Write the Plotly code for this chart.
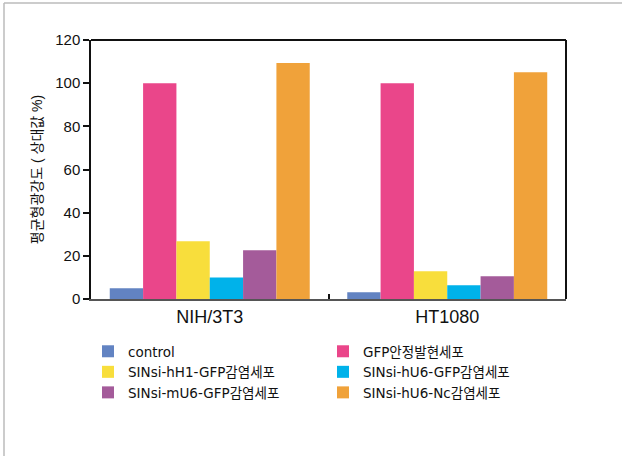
import plotly.graph_objects as go

# Cell lines on the x axis
cell_lines = ["NIH/3T3", "HT1080"]

# Series names and their mean fluorescence (relative %)
series_names = [
    "control",
    "GFP안정발현세포",
    "SINsi-hH1-GFP감염세포",
    "SINsi-hU6-GFP감염세포",
    "SINsi-mU6-GFP감염세포",
    "SINsi-hU6-Nc감염세포",
]
control = [5.0, 3.1]
gfp_stable = [100.0, 100.0]
hh1_gfp = [26.8, 12.8]
hu6_gfp = [10.0, 6.4]
mu6_gfp = [22.6, 10.5]
hu6_nc = [109.3, 105.1]

# Bars are drawn left-to-right in this order inside each group
bar_order = [control, gfp_stable, hh1_gfp, hu6_gfp, mu6_gfp, hu6_nc]
bar_colors = ["#6283C2", "#EA468A", "#F8DE3C", "#00B2EA", "#A45B9A", "#F0A23A"]

FONT = "Liberation Sans, Arial, Noto Sans CJK KR, sans-serif"
LEGEND_FONT = "DejaVu Sans, Noto Sans CJK KR, sans-serif"

fig = go.Figure()
for vals, name, color in zip(bar_order, series_names, bar_colors):
    fig.add_trace(go.Bar(
        x=cell_lines, y=vals, name=name,
        marker=dict(color=color, line=dict(width=0)),
    ))

W, H = 623, 456
L, R, T, B = 91, 57, 40, 157
pw, ph = W - L - R, H - T - B

def px_x(x):
    return (x - L) / pw

def px_y(y):
    return (H - B - y) / ph

fig.update_layout(
    width=W, height=H,
    margin=dict(l=L, r=R, t=T, b=B, pad=0, autoexpand=False),
    paper_bgcolor="white", plot_bgcolor="white",
    barmode="group", bargap=0.158, bargroupgap=0,
    font=dict(family=FONT, color="#111111", size=14),
    showlegend=True,
    legend=dict(
        orientation="h",
        x=px_x(88), y=px_y(336), xanchor="left", yanchor="top",
        entrywidth=190, entrywidthmode="pixels",
        traceorder="normal",
        font=dict(size=13.5, family=LEGEND_FONT, color="#111111"),
        itemwidth=30, tracegroupgap=0,
        bgcolor="rgba(0,0,0,0)",
    ),
    xaxis=dict(
        showline=True, linecolor="#555555", linewidth=2,
        ticks="inside", tickson="boundaries", ticklen=5, tickcolor="#111111", tickwidth=1.5,
        tickfont=dict(size=18, family=FONT, color="#111111"),
        mirror=False, showgrid=False,
    ),
    yaxis=dict(
        range=[0, 120], tickvals=[0, 20, 40, 60, 80, 100, 120],
        showline=True, linecolor="#111111", linewidth=1.5,
        ticks="outside", ticklen=6, tickcolor="#111111", tickwidth=1.5,
        tickfont=dict(size=15, family=FONT, color="#111111"),
        showgrid=False, zeroline=False,
        title=dict(text="평균형광강도 ( 상대값 %)", font=dict(size=14, family=FONT), standoff=9),
    ),
    shapes=[
        # top and right frame of the plot area
        dict(type="line", xref="paper", yref="paper", x0=0, x1=1, y0=1, y1=1,
             line=dict(color="#111111", width=2)),
        dict(type="line", xref="paper", yref="paper", x0=1, x1=1, y0=0, y1=1,
             line=dict(color="#111111", width=2)),
        # light grey page border on the top and left
        dict(type="line", xref="paper", yref="paper", x0=px_x(4), x1=px_x(622),
             y0=px_y(3), y1=px_y(3), line=dict(color="#BBBBBB", width=1.5)),
        dict(type="line", xref="paper", yref="paper", x0=px_x(4), x1=px_x(4),
             y0=px_y(3), y1=px_y(456), line=dict(color="#BBBBBB", width=1.5)),
    ],
)

fig.write_html("out.html")
